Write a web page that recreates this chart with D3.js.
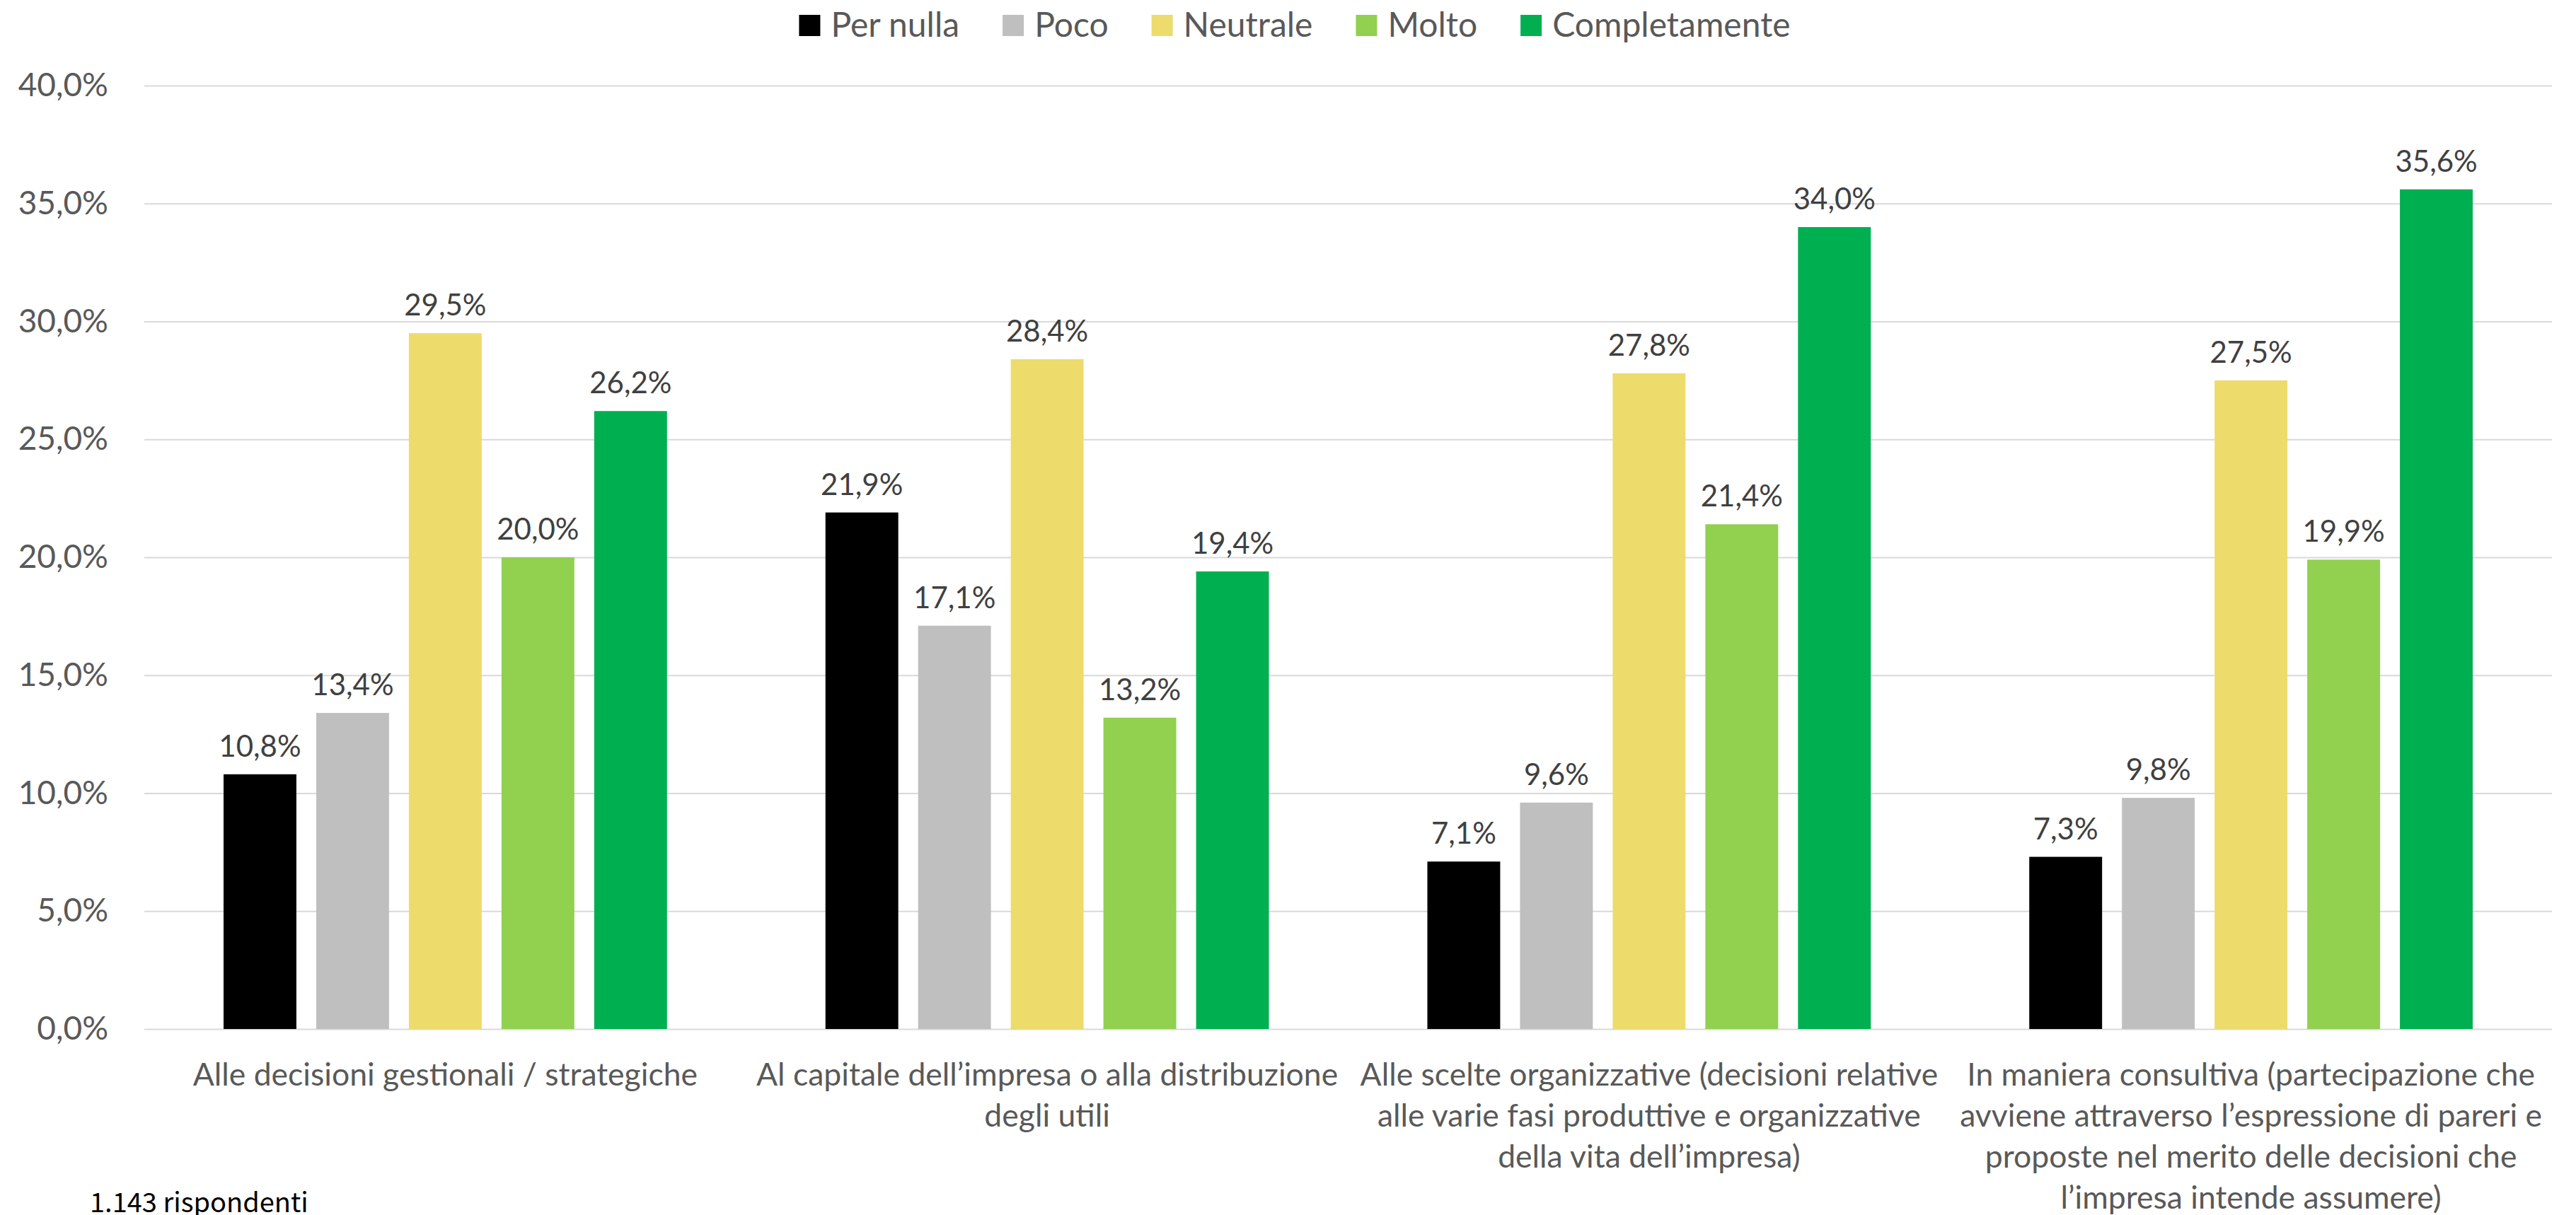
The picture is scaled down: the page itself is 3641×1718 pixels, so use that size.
<!DOCTYPE html>
<html>
<head>
<meta charset="utf-8">
<script src="https://cdn.jsdelivr.net/npm/d3@7"></script>
<style>
  body { margin: 0; background: #fff; }
  svg { display: block; font-family: Lato, "Open Sans", sans-serif; }
</style>
</head>
<body>
<svg id="chart"></svg>
<script>
// categories (line breaks as in the original)
var categories = [
  "Alle decisioni gestionali / strategiche",
  "Al capitale dell\u2019impresa o alla distribuzione\ndegli utili",
  "Alle scelte organizzative (decisioni relative\nalle varie fasi produttive e organizzative\ndella vita dell\u2019impresa)",
  "In maniera consultiva (partecipazione che\navviene attraverso l\u2019espressione di pareri e\nproposte nel merito delle decisioni che\nl\u2019impresa intende assumere)"
];

var seriesNames = ["Per nulla", "Poco", "Neutrale", "Molto", "Completamente"];
var seriesColors = ["#000000", "#BFBFBF", "#EDDB6C", "#92D050", "#00B050"];

var perNulla      = [10.8, 21.9, 7.1, 7.3];
var poco          = [13.4, 17.1, 9.6, 9.8];
var neutrale      = [29.5, 28.4, 27.8, 27.5];
var molto         = [20.0, 13.2, 21.4, 19.9];
var completamente = [26.2, 19.4, 34.0, 35.6];

var yTicks = [0, 5, 10, 15, 20, 25, 30, 35, 40];

var seriesValues = [perNulla, poco, neutrale, molto, completamente];

var width = 3641, height = 1718;
var margin = {top: 121, right: 34, bottom: 260, left: 204};

var fmt = v => d3.format(".1f")(v).replace(".", ",") + "%";

var svg = d3.select("#chart")
  .attr("width", width)
  .attr("height", height)
  .attr("viewBox", [0, 0, width, height]);

var x0 = d3.scaleBand()
  .domain(categories)
  .range([margin.left, width - margin.right])
  .padding(0);

var x1 = d3.scaleBand()
  .domain(seriesNames)
  .range([0, x0.bandwidth()])
  .paddingInner(0.214)
  .paddingOuter(0.855);

var y = d3.scaleLinear()
  .domain([0, 40])
  .range([height - margin.bottom - 3, margin.top]);

var color = d3.scaleOrdinal().domain(seriesNames).range(seriesColors);

// gridlines + y labels
var yAxis = g => g
  .attr("transform", `translate(${margin.left},0)`)
  .call(d3.axisLeft(y).tickValues(yTicks).tickFormat(d => d3.format(".1f")(d).replace(".", ",") + "%")
    .tickSize(-(width - margin.left - margin.right)).tickPadding(51))
  .call(g => g.select(".domain").remove())
  .call(g => g.selectAll(".tick line").attr("stroke", "#D9D9D9").attr("stroke-width", 2))
  .call(g => g.selectAll(".tick text")
    .attr("fill", "#595959")
    .style("font-size", "46px")
    .style("font-family", "Lato"));

svg.append("g").call(yAxis);

// bars
var table = categories.map((c, i) => seriesNames.map((s, j) => ({cat: c, series: s, value: seriesValues[j][i]})));

var groups = svg.append("g")
  .selectAll("g")
  .data(table)
  .join("g")
    .attr("transform", (d, i) => `translate(${x0(categories[i])},0)`);

groups.selectAll("rect")
  .data(d => d)
  .join("rect")
    .attr("x", d => x1(d.series))
    .attr("y", d => y(d.value))
    .attr("width", x1.bandwidth())
    .attr("height", d => y(0) - y(d.value))
    .attr("fill", d => color(d.series));

groups.selectAll("text")
  .data(d => d)
  .join("text")
    .attr("x", d => x1(d.series) + x1.bandwidth() / 2)
    .attr("y", d => y(d.value) - 25)
    .attr("text-anchor", "middle")
    .attr("fill", "#404040")
    .style("font-size", "42px")
    .text(d => fmt(d.value));

// category labels
var xAxis = svg.append("g");
categories.forEach(function(c) {
  var t = xAxis.append("text")
    .attr("x", x0(c) + x0.bandwidth() / 2)
    .attr("y", 1535)
    .attr("text-anchor", "middle")
    .attr("fill", "#595959")
    .style("font-size", "44.5px");
  c.split("\n").forEach(function(line, k) {
    t.append("tspan")
      .attr("x", x0(c) + x0.bandwidth() / 2)
      .attr("dy", k == 0 ? 0 : 58)
      .text(line);
  });
});

// legend
var legend = svg.append("g");
var lx = 0;
seriesNames.forEach(function(s) {
  legend.append("rect")
    .attr("x", lx).attr("y", 21)
    .attr("width", 30).attr("height", 30)
    .attr("fill", color(s));
  var txt = legend.append("text")
    .attr("x", lx + 45)
    .attr("y", 52)
    .attr("fill", "#595959")
    .style("font-size", "48px")
    .text(s);
  lx += 45 + txt.node().getComputedTextLength() + 61;
});
var legendW = lx - 61;
legend.attr("transform", `translate(${1830 - legendW / 2},0)`);

// footnote
svg.append("text")
  .attr("x", 127)
  .attr("y", 1714)
  .attr("fill", "#000")
  .style("font-family", "'Noto Sans CJK JP', 'Noto Sans', sans-serif")
  .style("font-size", "38px")
  .text("1.143 rispondenti");
</script>
</body>
</html>
